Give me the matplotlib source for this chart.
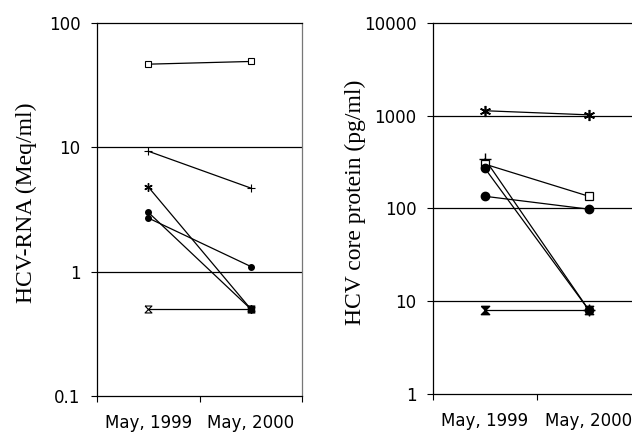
import matplotlib
matplotlib.use("Agg")
import matplotlib.pyplot as plt
from matplotlib.ticker import FixedLocator, NullLocator, FixedFormatter

# data
dates = ["May, 1999", "May, 2000"]

rna_square = [46.6, 49.0]
rna_plus = [9.3, 4.7]
rna_star = [4.8, 0.5]
rna_circle_a = [3.0, 0.5]
rna_circle_b = [2.7, 1.1]
rna_bottom = [0.5, 0.5]

core_star = [1130, 1020]
core_plus = [340, 8]
core_square = [300, 135]
core_circle_a = [270, 8]
core_circle_b = [135, 98]
core_bottom = [8, 8]

rna_ticks = [0.1, 1, 10, 100]
core_ticks = [1, 10, 100, 1000, 10000]

# hourglass marker (as in the original, overlapping triangle + star)
hourglass = [(-1, 1), (1, 1), (-1, -1), (1, -1), (-1, 1)]
star = (6, 2, 0)

fig = plt.figure(figsize=(6.32, 4.41), dpi=100)
ax1 = fig.add_axes([0.1535, 0.102, 0.3245, 0.846])
ax2 = fig.add_axes([0.685, 0.107, 0.329, 0.841])

xpos = [0.5, 1.5]


def style_axis(ax, ticks, label, lx, ly):
    ax.set_yscale("log")
    ax.set_ylim(ticks[0], ticks[-1])
    ax.set_xlim(0, 2)
    ax.yaxis.set_major_locator(FixedLocator(ticks))
    ax.yaxis.set_major_formatter(FixedFormatter([("%g" % t) for t in ticks]))
    ax.yaxis.set_minor_locator(NullLocator())
    ax.set_xticks(xpos)
    ax.set_xticklabels(dates)
    ax.set_xticks([0, 1, 2], minor=True)
    ax.tick_params(axis="x", which="major", length=0, pad=13, labelsize=12)
    ax.tick_params(axis="x", which="minor", length=4, width=0.8, direction="out")
    ax.tick_params(axis="y", which="major", length=4, width=0.8, pad=8, labelsize=12)
    for t in ticks[1:-1]:
        ax.axhline(t, color="black", lw=0.9, zorder=1)
    for s in ax.spines.values():
        s.set_linewidth(0.9)
    ax.spines["right"].set_color("#777777")
    ax.set_ylabel(label, family="Liberation Serif", fontsize=17)
    ax.yaxis.set_label_coords(lx, ly)


style_axis(ax1, rna_ticks, "HCV-RNA (Meq/ml)", -0.293, 0.517)
style_axis(ax2, core_ticks, "HCV core protein (pg/ml)", -0.322, 0.515)

kw = dict(color="black", lw=0.9, zorder=3)
ax1.plot(xpos, rna_square, marker="s", ms=4, mfc="white", mew=0.8, **kw)
ax1.plot(xpos, rna_plus, marker="+", ms=6, mew=0.8, **kw)
ax1.plot(xpos, rna_star, marker=star, ms=6, mew=1, **kw)
ax1.plot(xpos, rna_circle_a, marker="o", ms=4, **kw)
ax1.plot(xpos, rna_circle_b, marker="o", ms=4, **kw)
ax1.plot(xpos, rna_bottom, marker=hourglass, ms=5, mfc="white", mew=0.8, **kw)
ax1.plot(xpos[1], rna_bottom[1], marker="s", ms=5, color="black", zorder=4)

ax2.plot(xpos, core_star, marker=star, ms=8, mew=1.2, **kw)
ax2.plot(xpos, core_plus, marker="+", ms=9, mew=1, **kw)
ax2.plot(xpos, core_square, marker="s", ms=6, mfc="white", mew=0.9, **kw)
ax2.plot(xpos, core_circle_a, marker="o", ms=6, **kw)
ax2.plot(xpos, core_circle_b, marker="o", ms=6, **kw)
ax2.plot(xpos, core_bottom, marker=hourglass, ms=6, **kw)

fig.savefig("out.png", dpi=100)
